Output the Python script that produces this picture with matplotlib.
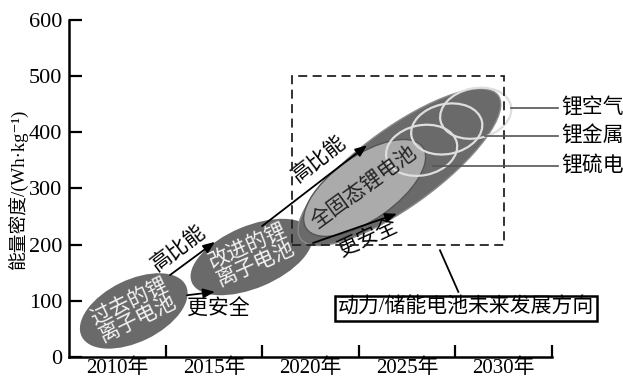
import matplotlib
matplotlib.use('Agg')
import matplotlib.pyplot as plt
from matplotlib.patches import Ellipse, Rectangle
from matplotlib.transforms import ScaledTranslation

plt.rcParams['font.family'] = ['Liberation Serif', 'Noto Sans CJK SC', 'DejaVu Serif']

# axis data
year_labels = ['2010年', '2015年', '2020年', '2025年', '2030年']
y_ticks = [0, 100, 200, 300, 400, 500, 600]

# battery generations: (label, x position, energy density)
eras = ['过去的锂\n离子电池', '改进的锂\n离子电池', '全固态锂电池']
era_x = [0.67, 1.89, 3.06]
era_y = [82, 178, 301]

# future chemistries
future_names = ['锂硫电池', '锂金属电池', '锂空气电池']
future_x = [3.65, 3.91, 4.21]
future_y = [368, 406, 434]
future_label_y = [340, 393, 443]
future_line_x0 = [3.77, 4.31, 4.57]

DPI = 100
fig = plt.figure(figsize=(6.23, 3.81), dpi=DPI)
ax = fig.add_axes([0.1108, 0.063, 0.7753, 0.8845])
ax.set_xlim(0, 5)
ax.set_ylim(0, 600)


def ell(x, y, w, h, ang, **kw):
    # size in pixels, centre in data coords
    e = Ellipse((0, 0), w / DPI, h / DPI, angle=ang,
                transform=fig.dpi_scale_trans + ScaledTranslation(x, y, ax.transData),
                clip_on=False, **kw)
    ax.add_patch(e)
    return e


dark = '#6a6a6a'
light = '#ababab'

# older generations
ell(era_x[0], era_y[0], 116, 62, 26, facecolor=dark, edgecolor='none', zorder=2)
ell(era_x[1], era_y[1], 130, 62, 23, facecolor=dark, edgecolor='none', zorder=2)

# future envelope
ell(3.42, 338, 244, 78, 36, facecolor=dark, edgecolor='#8a8a8a', lw=1, zorder=2)
ell(era_x[2], era_y[2], 142, 64, 35, facecolor=light, edgecolor='#555555', lw=1, zorder=3)
for fx, fy in zip(future_x, future_y):
    ell(fx, fy, 72, 50, 12, facecolor='none', edgecolor='#dedede', lw=1.6, zorder=4)

ax.text(era_x[0], era_y[0], eras[0], rotation=26, ha='center', va='center',
        color='#f4f4f4', fontsize=15, linespacing=1.0, zorder=5,
        rotation_mode='anchor')
ax.text(era_x[1], era_y[1] + 3, eras[1], rotation=24, ha='center', va='center',
        color='#f4f4f4', fontsize=15, linespacing=1.0, zorder=5,
        rotation_mode='anchor')
ax.text(era_x[2], era_y[2], eras[2], rotation=36, ha='center', va='center',
        color='#222222', fontsize=15, zorder=5, rotation_mode='anchor')

# arrows
aprops = dict(arrowstyle='-|>,head_length=0.5,head_width=0.2', lw=1.3,
              color='black', mutation_scale=14, shrinkA=0, shrinkB=0)
arrows = [((1.046, 146), (1.511, 205)), ((1.222, 110), (1.511, 116)),
          ((1.998, 233), (3.085, 377)), ((2.526, 203), (3.395, 255))]
for (p0, p1) in arrows:
    ax.annotate('', xy=p1, xytext=p0, arrowprops=aprops, zorder=6)

ax.text(1.14, 192, '高比能', rotation=37, ha='center', va='center', fontsize=15,
        rotation_mode='anchor', zorder=6)
ax.text(1.55, 84, '更安全', ha='center', va='center', fontsize=15, zorder=6)
ax.text(2.60, 351, '高比能', rotation=38, ha='center', va='center', fontsize=15,
        rotation_mode='anchor', zorder=6)
ax.text(3.10, 210, '更安全', rotation=25, ha='center', va='center', fontsize=15,
        rotation_mode='anchor', zorder=6)

# dashed future box
ax.add_patch(Rectangle((2.31, 200), 2.19, 300, fill=False, ls=(0, (5, 3)),
                       lw=1.3, edgecolor='#222222', zorder=6, clip_on=False))
ax.plot([3.84, 4.03], [190, 116], color='black', lw=1.3, zorder=6)
ax.text(4.11, 87, '动力/储能电池未来发展方向', ha='center', va='center', fontsize=15,
        zorder=7, bbox=dict(boxstyle='square,pad=0.12', facecolor='white',
                            edgecolor='black', lw=1.8))

# right-hand labels
for x0, ly, name in zip(future_line_x0, future_label_y, future_names):
    ax.plot([x0, 5.06], [ly, ly], color='#555555', lw=1.2, zorder=6, clip_on=False)
    ax.text(5.10, ly, name, ha='left', va='center', fontsize=15, clip_on=False)

# axes styling
for s in ['top', 'right']:
    ax.spines[s].set_visible(False)
ax.spines['left'].set_linewidth(1.8)
ax.spines['bottom'].set_linewidth(1.8)
ax.set_yticks(y_ticks)
ax.set_yticklabels([str(v) for v in y_ticks])
ax.tick_params(axis='y', direction='in', length=9, width=1.6, labelsize=16, pad=5)
ax.set_xticks([1, 2, 3, 4, 5])
ax.set_xticklabels([])
ax.tick_params(axis='x', which='major', direction='in', length=9, width=1.6)
ax.set_xticks([0.5, 1.5, 2.5, 3.5, 4.5], minor=True)
ax.set_xticklabels(year_labels, minor=True)
ax.tick_params(axis='x', which='minor', length=0, labelsize=15, pad=1)

fig.text(19 / 623, 1 - 189 / 381, '能量密度/(Wh·kg⁻¹)', rotation=90,
         ha='center', va='center', fontsize=13.5)

fig.savefig('out.png', dpi=DPI)
